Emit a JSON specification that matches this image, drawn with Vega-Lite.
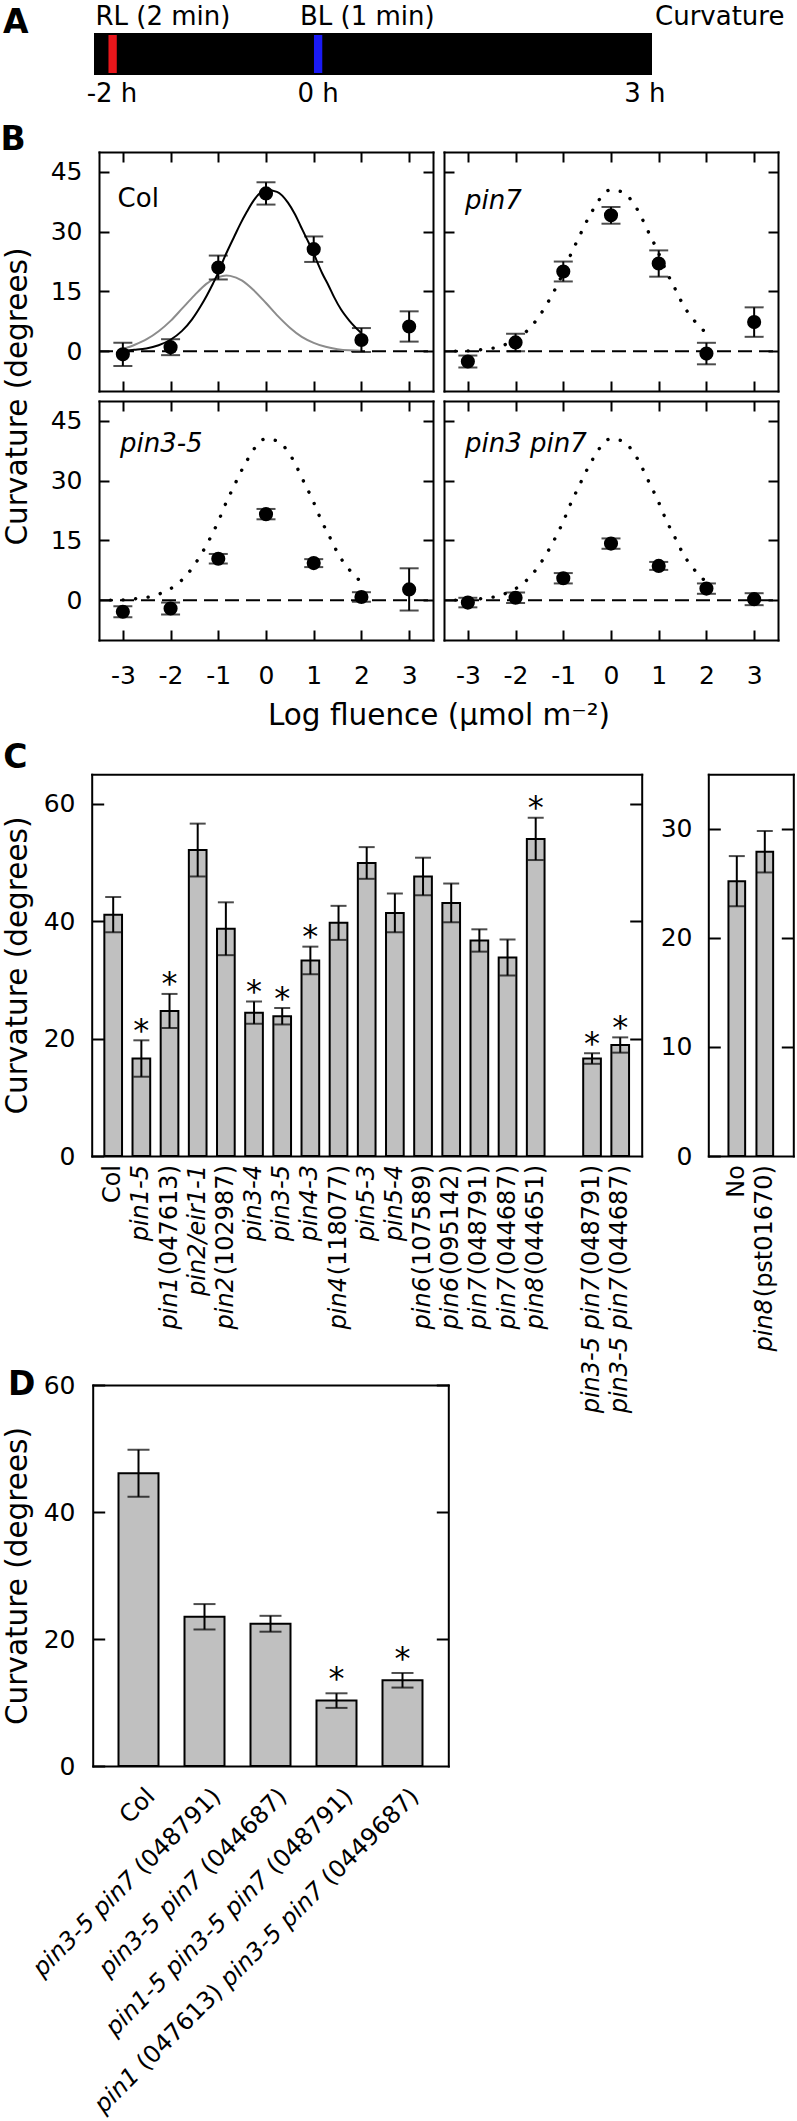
{
"$schema": "https://vega.github.io/schema/vega-lite/v6.json",
"width": 797, "height": 2121,
"autosize": {"type": "none"},
"padding": 0,
"background": "white",
"config": {
  "font": "DejaVu Sans",
  "view": {"stroke": null},
  "axis": {"domain": true, "domainColor": "black", "domainWidth": 2, "domainCap": "square", "grid": false, "ticks": true, "tickWidth": 2, "tickColor": "black", "labelFont": "DejaVu Sans", "labelFontSize": 25, "labelColor": "black", "labelFlush": false, "labelOverlap": false, "titleFont": "DejaVu Sans", "titleFontSize": 29.5, "titleFontWeight": "normal", "titleColor": "black"},
  "text": {"font": "DejaVu Sans", "color": "black"}
},
"datasets": {
  "aseg": [{"seg": "dark", "t0": -2.165, "t1": 3.23}, {"seg": "RL", "t0": -2.044, "t1": -1.944}, {"seg": "BL", "t0": -0.05, "t1": 0.05}],
  "atxt": [{"txt": "RL (2 min)", "t": -2.16, "pos": "above"}, {"txt": "BL (1 min)", "t": -0.176, "pos": "above"}, {"txt": "Curvature", "t": 3.269, "pos": "above"}, {"txt": "-2 h", "t": -2, "pos": "below"}, {"txt": "0 h", "t": 0, "pos": "below"}, {"txt": "3 h", "t": 3.17, "pos": "below"}],
  "bpts": [
    {"panel": "Col", "x": -3, "m": -0.8, "e": 2.9}, {"panel": "Col", "x": -2, "m": 1.0, "e": 2.0}, {"panel": "Col", "x": -1, "m": 21.0, "e": 3.0}, {"panel": "Col", "x": 0, "m": 39.6, "e": 2.8}, {"panel": "Col", "x": 1, "m": 25.6, "e": 3.2}, {"panel": "Col", "x": 2, "m": 2.8, "e": 3.0}, {"panel": "Col", "x": 3, "m": 6.2, "e": 3.8},
    {"panel": "pin7", "x": -3, "m": -2.6, "e": 1.5}, {"panel": "pin7", "x": -2, "m": 2.2, "e": 2.2}, {"panel": "pin7", "x": -1, "m": 20.0, "e": 2.5}, {"panel": "pin7", "x": 0, "m": 34.1, "e": 2.1}, {"panel": "pin7", "x": 1, "m": 22.0, "e": 3.3}, {"panel": "pin7", "x": 2, "m": -0.6, "e": 2.7}, {"panel": "pin7", "x": 3, "m": 7.3, "e": 3.7},
    {"panel": "pin3-5", "x": -3, "m": -2.9, "e": 1.4}, {"panel": "pin3-5", "x": -2, "m": -2.1, "e": 1.5}, {"panel": "pin3-5", "x": -1, "m": 10.4, "e": 1.2}, {"panel": "pin3-5", "x": 0, "m": 21.6, "e": 1.3}, {"panel": "pin3-5", "x": 1, "m": 9.3, "e": 1.0}, {"panel": "pin3-5", "x": 2, "m": 0.8, "e": 1.2}, {"panel": "pin3-5", "x": 3, "m": 2.7, "e": 5.3},
    {"panel": "pin3 pin7", "x": -3, "m": -0.6, "e": 1.2}, {"panel": "pin3 pin7", "x": -2, "m": 0.6, "e": 1.3}, {"panel": "pin3 pin7", "x": -1, "m": 5.5, "e": 1.3}, {"panel": "pin3 pin7", "x": 0, "m": 14.2, "e": 1.3}, {"panel": "pin3 pin7", "x": 1, "m": 8.6, "e": 1.0}, {"panel": "pin3 pin7", "x": 2, "m": 2.9, "e": 1.3}, {"panel": "pin3 pin7", "x": 3, "m": 0.25, "e": 1.5}
  ],
  "fit": [
    {"x": -3.26, "y": 0}, {"x": -3.0, "y": 0.08}, {"x": -2.76, "y": 0.33}, {"x": -2.51, "y": 0.67}, {"x": -2.25, "y": 1.5}, {"x": -2.01, "y": 2.8}, {"x": -1.76, "y": 5.1}, {"x": -1.55, "y": 8.0}, {"x": -1.38, "y": 11.1}, {"x": -1.24, "y": 14.0}, {"x": -1.11, "y": 17.0}, {"x": -0.99, "y": 20.0}, {"x": -0.89, "y": 23.0}, {"x": -0.78, "y": 25.9}, {"x": -0.66, "y": 28.9}, {"x": -0.54, "y": 31.9}, {"x": -0.41, "y": 34.8}, {"x": -0.26, "y": 37.8}, {"x": -0.01, "y": 40.5}, {"x": 0.23, "y": 40.0}, {"x": 0.46, "y": 37.3}, {"x": 0.61, "y": 34.3}, {"x": 0.73, "y": 31.3}, {"x": 0.85, "y": 28.3}, {"x": 0.97, "y": 25.4}, {"x": 1.07, "y": 22.5}, {"x": 1.18, "y": 19.5}, {"x": 1.31, "y": 16.5}, {"x": 1.43, "y": 13.5}, {"x": 1.57, "y": 10.5}, {"x": 1.75, "y": 7.6}, {"x": 1.99, "y": 4.6}
  ],
  "gray": [
    {"x": -3, "y": 0.5}, {"x": -2.75, "y": 1.6}, {"x": -2.5, "y": 3.0}, {"x": -2.25, "y": 5.0}, {"x": -2, "y": 7.6}, {"x": -1.75, "y": 10.8}, {"x": -1.5, "y": 14.0}, {"x": -1.25, "y": 16.9}, {"x": -1, "y": 18.6}, {"x": -0.83, "y": 19.0}, {"x": -0.75, "y": 18.9}, {"x": -0.5, "y": 17.7}, {"x": -0.25, "y": 15.2}, {"x": 0, "y": 12.1}, {"x": 0.25, "y": 8.8}, {"x": 0.5, "y": 5.9}, {"x": 0.75, "y": 3.6}, {"x": 1, "y": 2.1}, {"x": 1.25, "y": 1.1}, {"x": 1.5, "y": 0.5}, {"x": 1.75, "y": 0.2}, {"x": 2, "y": 0.1}
  ],
  "cmain": [
    {"g": "Col", "m": 41.1, "e": 3.0, "ro": "Col"},
    {"g": "pin1-5", "m": 16.6, "e": 3.1, "sig": "*", "it": "pin1-5"},
    {"g": "pin1 (047613)", "m": 24.7, "e": 2.9, "sig": "*", "it": "pin1\u00a0", "ro": "(047613)"},
    {"g": "pin2/eir1-1", "m": 52.1, "e": 4.5, "it": "pin2/eir1-1"},
    {"g": "pin2 (102987)", "m": 38.7, "e": 4.5, "it": "pin2", "ro": "(102987)"},
    {"g": "pin3-4", "m": 24.4, "e": 1.9, "sig": "*", "it": "pin3-4"},
    {"g": "pin3-5", "m": 23.8, "e": 1.4, "sig": "*", "it": "pin3-5"},
    {"g": "pin4-3", "m": 33.3, "e": 2.35, "sig": "*", "it": "pin4-3"},
    {"g": "pin4 (118077)", "m": 39.7, "e": 2.9, "it": "pin4", "ro": "(118077)"},
    {"g": "pin5-3", "m": 49.9, "e": 2.7, "it": "pin5-3"},
    {"g": "pin5-4", "m": 41.4, "e": 3.3, "it": "pin5-4"},
    {"g": "pin6 (107589)", "m": 47.6, "e": 3.2, "it": "pin6", "ro": "(107589)"},
    {"g": "pin6 (095142)", "m": 43.1, "e": 3.3, "it": "pin6", "ro": "(095142)"},
    {"g": "pin7 (048791)", "m": 36.7, "e": 1.9, "it": "pin7", "ro": "(048791)"},
    {"g": "pin7 (044687)", "m": 33.8, "e": 3.05, "it": "pin7", "ro": "(044687)"},
    {"g": "pin8 (044651)", "m": 54.0, "e": 3.6, "sig": "*", "it": "pin8", "ro": "(044651)"},
    {"g": "pin3-5 pin7 (048791)", "m": 16.6, "e": 0.9, "sig": "*", "it": "pin3-5 pin7", "ro": "(048791)"},
    {"g": "pin3-5 pin7 (044687)", "m": 18.9, "e": 1.3, "sig": "*", "it": "pin3-5 pin7", "ro": "(044687)"}
  ],
  "cside": [
    {"g": "No", "m": 25.2, "e": 2.3, "ro": "No"},
    {"g": "pin8 (pst01670)", "m": 27.9, "e": 1.9, "it": "pin8\u00a0", "ro": "(pst01670)"}
  ],
  "dbars": [
    {"g": "Col", "m": 46.1, "e": 3.7, "r1": "Col"},
    {"g": "pin3-5 pin7 (048791)", "m": 23.5, "e": 2.0, "r1": "(048791)", "i1": "pin3-5 pin7"},
    {"g": "pin3-5 pin7 (044687)", "m": 22.4, "e": 1.25, "r1": "(044687)", "i1": "pin3-5 pin7"},
    {"g": "pin1-5 pin3-5 pin7 (048791)", "m": 10.3, "e": 1.15, "sig": "*", "r1": "(048791)", "i1": "pin1-5 pin3-5 pin7"},
    {"g": "pin1 (047613) pin3-5 pin7 (0449687)", "m": 13.5, "e": 1.15, "sig": "*", "r1": "(0449687)", "i1b": "pin3-5 pin7", "r2": "(047613)", "i2": "pin1"}
  ]
},
"resolve": {"scale": {"x": "independent", "y": "independent", "color": "independent"}, "axis": {"x": "independent", "y": "independent"}},
"layer": [
  {
    "layer": [
      {"data": {"name": "aseg"},
       "mark": {"type": "rect", "stroke": "black", "strokeWidth": 2},
       "encoding": {
         "x": {"field": "t0", "type": "quantitative", "scale": {"domain": [-2.165, 3.23], "range": [95, 651], "nice": false, "zero": false}, "axis": null},
         "x2": {"field": "t1"},
         "y": {"datum": 0, "type": "quantitative", "scale": {"domain": [0, 1], "range": [74, 34], "nice": false, "zero": false}, "axis": null},
         "y2": {"datum": 1},
         "color": {"field": "seg", "type": "nominal", "scale": {"domain": ["dark", "RL", "BL"], "range": ["#000000", "#e8161b", "#1a1af5"]}, "legend": null}}},
      {"data": {"name": "atxt"}, "transform": [{"filter": "datum.pos === 'above'"}],
       "mark": {"type": "text", "align": "left", "baseline": "alphabetic", "fontSize": 26, "dy": -9},
       "encoding": {
         "x": {"field": "t", "type": "quantitative", "scale": {"domain": [-2.165, 3.23], "range": [95, 651], "nice": false, "zero": false}, "axis": null},
         "y": {"datum": 1, "type": "quantitative", "scale": {"domain": [0, 1], "range": [74, 34], "nice": false, "zero": false}, "axis": null},
         "text": {"field": "txt"}}},
      {"data": {"name": "atxt"}, "transform": [{"filter": "datum.pos === 'below'"}],
       "mark": {"type": "text", "align": "center", "baseline": "alphabetic", "fontSize": 26, "dy": 27.7},
       "encoding": {
         "x": {"field": "t", "type": "quantitative", "scale": {"domain": [-2.165, 3.23], "range": [95, 651], "nice": false, "zero": false}, "axis": null},
         "y": {"datum": 0, "type": "quantitative", "scale": {"domain": [0, 1], "range": [74, 34], "nice": false, "zero": false}, "axis": null},
         "text": {"field": "txt"}}},
      {"data": {"values": [{}]},
       "mark": {"type": "text", "text": "A", "align": "left", "baseline": "alphabetic", "fontSize": 33, "fontWeight": "bold", "dx": -92, "dy": -1},
       "encoding": {
         "x": {"datum": -2.165, "type": "quantitative", "scale": {"domain": [-2.165, 3.23], "range": [95, 651], "nice": false, "zero": false}, "axis": null},
         "y": {"datum": 1, "type": "quantitative", "scale": {"domain": [0, 1], "range": [74, 34], "nice": false, "zero": false}, "axis": null}}}
    ]
  },
  {
    "resolve": {"axis": {"x": "independent", "y": "independent"}},
    "layer": [
      {"data": {"values": [{}]},
       "mark": {"type": "rule", "strokeDash": [14, 7], "strokeWidth": 2, "color": "black"},
       "encoding": {
         "x": {"datum": -3.5, "type": "quantitative", "scale": {"domain": [-3.5, 3.5], "range": [99, 433], "nice": false, "zero": false}, "axis": null},
         "x2": {"datum": 3.5},
         "y": {"datum": 0, "type": "quantitative", "scale": {"domain": [-10, 50], "range": [391, 152], "nice": false, "zero": false}, "axis": null}}},
      {"data": {"name": "gray"},
       "mark": {"type": "line", "color": "#8c8c8c", "strokeWidth": 2, "interpolate": "monotone"},
       "encoding": {
         "x": {"field": "x", "type": "quantitative", "scale": {"domain": [-3.5, 3.5], "range": [99, 433], "nice": false, "zero": false}, "axis": null},
         "y": {"field": "y", "type": "quantitative", "scale": {"domain": [-10, 50], "range": [391, 152], "nice": false, "zero": false}, "axis": null}}},
      {"data": {"name": "fit"}, "transform": [{"filter": "datum.x >= -3.05"}],
       "mark": {"type": "line", "color": "black", "strokeWidth": 2, "interpolate": "monotone"},
       "encoding": {
         "x": {"field": "x", "type": "quantitative", "scale": {"domain": [-3.5, 3.5], "range": [99, 433], "nice": false, "zero": false}, "axis": {"orient": "top", "offset": -152, "values": [-3, -2, -1, 0, 1, 2, 3], "tickSize": -10, "labels": false, "title": null}},
         "y": {"field": "y", "type": "quantitative", "scale": {"domain": [-10, 50], "range": [391, 152], "nice": false, "zero": false}, "axis": {"orient": "right", "offset": -364, "values": [0, 15, 30, 45], "tickSize": -10, "labels": false, "title": null}}}},
      {"data": {"name": "bpts"}, "transform": [{"filter": "datum.panel === 'Col'"}],
       "mark": {"type": "errorbar", "ticks": true, "size": 19, "thickness": 2, "color": "black"},
       "encoding": {
         "x": {"field": "x", "type": "quantitative", "scale": {"domain": [-3.5, 3.5], "range": [99, 433], "nice": false, "zero": false}, "axis": null},
         "y": {"field": "m", "type": "quantitative", "scale": {"domain": [-10, 50], "range": [391, 152], "nice": false, "zero": false}, "axis": null},
         "yError": {"field": "e"}}},
      {"data": {"name": "bpts"}, "transform": [{"filter": "datum.panel === 'Col'"}],
       "mark": {"type": "circle", "size": 200, "color": "black", "opacity": 1},
       "encoding": {
         "x": {"field": "x", "type": "quantitative", "scale": {"domain": [-3.5, 3.5], "range": [99, 433], "nice": false, "zero": false}, "axis": {"orient": "bottom", "offset": -1730, "values": [-3, -2, -1, 0, 1, 2, 3], "tickSize": -10, "labels": false, "title": null}},
         "y": {"field": "m", "type": "quantitative", "scale": {"domain": [-10, 50], "range": [391, 152], "nice": false, "zero": false}, "axis": {"orient": "left", "offset": -99, "values": [0, 15, 30, 45], "tickSize": -10, "labelPadding": 27, "title": "Curvature (degrees)", "titleX": -73, "titleY": 396, "titleAngle": 270, "titleAlign": "center", "titleBaseline": "alphabetic"}}}},
      {"data": {"values": [{}]},
       "mark": {"type": "text", "text": "Col", "align": "left", "baseline": "alphabetic", "fontSize": 26},
       "encoding": {
         "x": {"datum": -3.11, "type": "quantitative", "scale": {"domain": [-3.5, 3.5], "range": [99, 433], "nice": false, "zero": false}, "axis": null},
         "y": {"datum": 36.2, "type": "quantitative", "scale": {"domain": [-10, 50], "range": [391, 152], "nice": false, "zero": false}, "axis": null}}},
      {"data": {"values": [{}]},
       "mark": {"type": "text", "text": "B", "align": "left", "baseline": "alphabetic", "fontSize": 33, "fontWeight": "bold", "dx": -98.6, "dy": -2},
       "encoding": {
         "x": {"datum": -3.5, "type": "quantitative", "scale": {"domain": [-3.5, 3.5], "range": [99, 433], "nice": false, "zero": false}, "axis": null},
         "y": {"datum": 50, "type": "quantitative", "scale": {"domain": [-10, 50], "range": [391, 152], "nice": false, "zero": false}, "axis": null}}}
    ]
  },
  {
    "resolve": {"axis": {"x": "independent", "y": "independent"}},
    "layer": [
      {"data": {"values": [{}]},
       "mark": {"type": "rule", "strokeDash": [14, 7], "strokeWidth": 2, "color": "black"},
       "encoding": {
         "x": {"datum": -3.5, "type": "quantitative", "scale": {"domain": [-3.5, 3.5], "range": [444, 778], "nice": false, "zero": false}, "axis": null},
         "x2": {"datum": 3.5},
         "y": {"datum": 0, "type": "quantitative", "scale": {"domain": [-10, 50], "range": [391, 152], "nice": false, "zero": false}, "axis": null}}},
      {"data": {"name": "fit"},
       "mark": {"type": "line", "color": "black", "strokeWidth": 3.4, "strokeDash": [0.1, 12.5], "strokeCap": "round", "interpolate": "monotone"},
       "encoding": {
         "x": {"field": "x", "type": "quantitative", "scale": {"domain": [-3.5, 3.5], "range": [444, 778], "nice": false, "zero": false}, "axis": {"orient": "top", "offset": -152, "values": [-3, -2, -1, 0, 1, 2, 3], "tickSize": -10, "labels": false, "title": null}},
         "y": {"field": "y", "type": "quantitative", "scale": {"domain": [-10, 50], "range": [391, 152], "nice": false, "zero": false}, "axis": {"orient": "right", "offset": -19, "values": [0, 15, 30, 45], "tickSize": -10, "labels": false, "title": null}}}},
      {"data": {"name": "bpts"}, "transform": [{"filter": "datum.panel === 'pin7'"}],
       "mark": {"type": "errorbar", "ticks": true, "size": 19, "thickness": 2, "color": "black"},
       "encoding": {
         "x": {"field": "x", "type": "quantitative", "scale": {"domain": [-3.5, 3.5], "range": [444, 778], "nice": false, "zero": false}, "axis": null},
         "y": {"field": "m", "type": "quantitative", "scale": {"domain": [-10, 50], "range": [391, 152], "nice": false, "zero": false}, "axis": null},
         "yError": {"field": "e"}}},
      {"data": {"name": "bpts"}, "transform": [{"filter": "datum.panel === 'pin7'"}],
       "mark": {"type": "circle", "size": 200, "color": "black", "opacity": 1},
       "encoding": {
         "x": {"field": "x", "type": "quantitative", "scale": {"domain": [-3.5, 3.5], "range": [444, 778], "nice": false, "zero": false}, "axis": {"orient": "bottom", "offset": -1730, "values": [-3, -2, -1, 0, 1, 2, 3], "tickSize": -10, "labels": false, "title": null}},
         "y": {"field": "m", "type": "quantitative", "scale": {"domain": [-10, 50], "range": [391, 152], "nice": false, "zero": false}, "axis": {"orient": "left", "offset": -444, "values": [0, 15, 30, 45], "tickSize": -10, "labels": false, "title": null}}}},
      {"data": {"values": [{}]},
       "mark": {"type": "text", "text": "pin7", "align": "left", "baseline": "alphabetic", "fontSize": 26, "fontStyle": "italic"},
       "encoding": {
         "x": {"datum": -3.06, "type": "quantitative", "scale": {"domain": [-3.5, 3.5], "range": [444, 778], "nice": false, "zero": false}, "axis": null},
         "y": {"datum": 35.7, "type": "quantitative", "scale": {"domain": [-10, 50], "range": [391, 152], "nice": false, "zero": false}, "axis": null}}}
    ]
  },
  {
    "resolve": {"axis": {"x": "independent", "y": "independent"}},
    "layer": [
      {"data": {"values": [{}]},
       "mark": {"type": "rule", "strokeDash": [14, 7], "strokeWidth": 2, "color": "black"},
       "encoding": {
         "x": {"datum": -3.5, "type": "quantitative", "scale": {"domain": [-3.5, 3.5], "range": [99, 433], "nice": false, "zero": false}, "axis": null},
         "x2": {"datum": 3.5},
         "y": {"datum": 0, "type": "quantitative", "scale": {"domain": [-10, 50], "range": [640, 401], "nice": false, "zero": false}, "axis": null}}},
      {"data": {"name": "fit"},
       "mark": {"type": "line", "color": "black", "strokeWidth": 3.4, "strokeDash": [0.1, 12.5], "strokeCap": "round", "interpolate": "monotone"},
       "encoding": {
         "x": {"field": "x", "type": "quantitative", "scale": {"domain": [-3.5, 3.5], "range": [99, 433], "nice": false, "zero": false}, "axis": {"orient": "top", "offset": -401, "values": [-3, -2, -1, 0, 1, 2, 3], "tickSize": -10, "labels": false, "title": null}},
         "y": {"field": "y", "type": "quantitative", "scale": {"domain": [-10, 50], "range": [640, 401], "nice": false, "zero": false}, "axis": {"orient": "right", "offset": -364, "values": [0, 15, 30, 45], "tickSize": -10, "labels": false, "title": null}}}},
      {"data": {"name": "bpts"}, "transform": [{"filter": "datum.panel === 'pin3-5'"}],
       "mark": {"type": "errorbar", "ticks": true, "size": 19, "thickness": 2, "color": "black"},
       "encoding": {
         "x": {"field": "x", "type": "quantitative", "scale": {"domain": [-3.5, 3.5], "range": [99, 433], "nice": false, "zero": false}, "axis": null},
         "y": {"field": "m", "type": "quantitative", "scale": {"domain": [-10, 50], "range": [640, 401], "nice": false, "zero": false}, "axis": null},
         "yError": {"field": "e"}}},
      {"data": {"name": "bpts"}, "transform": [{"filter": "datum.panel === 'pin3-5'"}],
       "mark": {"type": "circle", "size": 200, "color": "black", "opacity": 1},
       "encoding": {
         "x": {"field": "x", "type": "quantitative", "scale": {"domain": [-3.5, 3.5], "range": [99, 433], "nice": false, "zero": false}, "axis": {"orient": "bottom", "offset": -1481, "values": [-3, -2, -1, 0, 1, 2, 3], "tickSize": -10, "labelPadding": 33.5, "labelExpr": "'' + datum.value", "title": "Log fluence (\u03bcmol m\u207b\u00b2)", "titleX": 438.5, "titleY": 84, "titleAngle": 0, "titleAlign": "center", "titleBaseline": "alphabetic"}},
         "y": {"field": "m", "type": "quantitative", "scale": {"domain": [-10, 50], "range": [640, 401], "nice": false, "zero": false}, "axis": {"orient": "left", "offset": -99, "values": [0, 15, 30, 45], "tickSize": -10, "labelPadding": 27, "title": null}}}},
      {"data": {"values": [{}]},
       "mark": {"type": "text", "text": "pin3-5", "align": "left", "baseline": "alphabetic", "fontSize": 26, "fontStyle": "italic"},
       "encoding": {
         "x": {"datum": -3.06, "type": "quantitative", "scale": {"domain": [-3.5, 3.5], "range": [99, 433], "nice": false, "zero": false}, "axis": null},
         "y": {"datum": 37.3, "type": "quantitative", "scale": {"domain": [-10, 50], "range": [640, 401], "nice": false, "zero": false}, "axis": null}}}
    ]
  },
  {
    "resolve": {"axis": {"x": "independent", "y": "independent"}},
    "layer": [
      {"data": {"values": [{}]},
       "mark": {"type": "rule", "strokeDash": [14, 7], "strokeWidth": 2, "color": "black"},
       "encoding": {
         "x": {"datum": -3.5, "type": "quantitative", "scale": {"domain": [-3.5, 3.5], "range": [444, 778], "nice": false, "zero": false}, "axis": null},
         "x2": {"datum": 3.5},
         "y": {"datum": 0, "type": "quantitative", "scale": {"domain": [-10, 50], "range": [640, 401], "nice": false, "zero": false}, "axis": null}}},
      {"data": {"name": "fit"},
       "mark": {"type": "line", "color": "black", "strokeWidth": 3.4, "strokeDash": [0.1, 12.5], "strokeCap": "round", "interpolate": "monotone"},
       "encoding": {
         "x": {"field": "x", "type": "quantitative", "scale": {"domain": [-3.5, 3.5], "range": [444, 778], "nice": false, "zero": false}, "axis": {"orient": "top", "offset": -401, "values": [-3, -2, -1, 0, 1, 2, 3], "tickSize": -10, "labels": false, "title": null}},
         "y": {"field": "y", "type": "quantitative", "scale": {"domain": [-10, 50], "range": [640, 401], "nice": false, "zero": false}, "axis": {"orient": "right", "offset": -19, "values": [0, 15, 30, 45], "tickSize": -10, "labels": false, "title": null}}}},
      {"data": {"name": "bpts"}, "transform": [{"filter": "datum.panel === 'pin3 pin7'"}],
       "mark": {"type": "errorbar", "ticks": true, "size": 19, "thickness": 2, "color": "black"},
       "encoding": {
         "x": {"field": "x", "type": "quantitative", "scale": {"domain": [-3.5, 3.5], "range": [444, 778], "nice": false, "zero": false}, "axis": null},
         "y": {"field": "m", "type": "quantitative", "scale": {"domain": [-10, 50], "range": [640, 401], "nice": false, "zero": false}, "axis": null},
         "yError": {"field": "e"}}},
      {"data": {"name": "bpts"}, "transform": [{"filter": "datum.panel === 'pin3 pin7'"}],
       "mark": {"type": "circle", "size": 200, "color": "black", "opacity": 1},
       "encoding": {
         "x": {"field": "x", "type": "quantitative", "scale": {"domain": [-3.5, 3.5], "range": [444, 778], "nice": false, "zero": false}, "axis": {"orient": "bottom", "offset": -1481, "values": [-3, -2, -1, 0, 1, 2, 3], "tickSize": -10, "labelPadding": 33.5, "labelExpr": "'' + datum.value", "title": null}},
         "y": {"field": "m", "type": "quantitative", "scale": {"domain": [-10, 50], "range": [640, 401], "nice": false, "zero": false}, "axis": {"orient": "left", "offset": -444, "values": [0, 15, 30, 45], "tickSize": -10, "labels": false, "title": null}}}},
      {"data": {"values": [{}]},
       "mark": {"type": "text", "text": "pin3 pin7", "align": "left", "baseline": "alphabetic", "fontSize": 26, "fontStyle": "italic"},
       "encoding": {
         "x": {"datum": -3.06, "type": "quantitative", "scale": {"domain": [-3.5, 3.5], "range": [444, 778], "nice": false, "zero": false}, "axis": null},
         "y": {"datum": 37.1, "type": "quantitative", "scale": {"domain": [-10, 50], "range": [640, 401], "nice": false, "zero": false}, "axis": null}}}
    ]
  },
  {
    "resolve": {"axis": {"x": "independent", "y": "independent"}},
    "layer": [
      {"data": {"name": "cmain"},
       "mark": {"type": "bar", "fill": "#c0c0c0", "stroke": "black", "strokeWidth": 2},
       "encoding": {
         "x": {"field": "g", "type": "nominal", "scale": {"type": "band", "domain": ["Col", "pin1-5", "pin1 (047613)", "pin2/eir1-1", "pin2 (102987)", "pin3-4", "pin3-5", "pin4-3", "pin4 (118077)", "pin5-3", "pin5-4", "pin6 (107589)", "pin6 (095142)", "pin7 (048791)", "pin7 (044687)", "pin8 (044651)", " ", "pin3-5 pin7 (048791)", "pin3-5 pin7 (044687)"], "range": [91.7, 641.7], "paddingInner": 0.372, "paddingOuter": 0.449}, "axis": {"orient": "bottom", "offset": -965, "ticks": false, "labels": false, "title": null}},
         "y": {"field": "m", "type": "quantitative", "scale": {"domain": [0, 65], "range": [1156, 774.3], "nice": false}, "axis": {"orient": "left", "offset": -91.7, "values": [0, 20, 40, 60], "tickSize": -12, "labelPadding": 28.7, "title": "Curvature (degrees)", "titleX": -65.7, "titleY": 965, "titleAngle": 270, "titleAlign": "center", "titleBaseline": "alphabetic"}}}},
      {"data": {"name": "cmain"},
       "mark": {"type": "errorbar", "ticks": true, "size": 16, "thickness": 2, "color": "black"},
       "encoding": {
         "x": {"field": "g", "type": "nominal", "scale": {"type": "band", "domain": ["Col", "pin1-5", "pin1 (047613)", "pin2/eir1-1", "pin2 (102987)", "pin3-4", "pin3-5", "pin4-3", "pin4 (118077)", "pin5-3", "pin5-4", "pin6 (107589)", "pin6 (095142)", "pin7 (048791)", "pin7 (044687)", "pin8 (044651)", " ", "pin3-5 pin7 (048791)", "pin3-5 pin7 (044687)"], "range": [91.7, 641.7], "paddingInner": 0.372, "paddingOuter": 0.449}, "axis": null},
         "y": {"field": "m", "type": "quantitative", "scale": {"domain": [0, 65], "range": [1156, 774.3], "nice": false}, "axis": null},
         "yError": {"field": "e"}}},
      {"data": {"name": "cmain"}, "transform": [{"filter": "datum.sig"}, {"calculate": "datum.m + datum.e", "as": "hi"}],
       "mark": {"type": "text", "text": "*", "fontSize": 32, "baseline": "alphabetic", "align": "center", "dy": 0.5},
       "encoding": {
         "x": {"field": "g", "type": "nominal", "scale": {"type": "band", "domain": ["Col", "pin1-5", "pin1 (047613)", "pin2/eir1-1", "pin2 (102987)", "pin3-4", "pin3-5", "pin4-3", "pin4 (118077)", "pin5-3", "pin5-4", "pin6 (107589)", "pin6 (095142)", "pin7 (048791)", "pin7 (044687)", "pin8 (044651)", " ", "pin3-5 pin7 (048791)", "pin3-5 pin7 (044687)"], "range": [91.7, 641.7], "paddingInner": 0.372, "paddingOuter": 0.449}, "axis": {"orient": "top", "offset": -774.3, "ticks": false, "labels": false, "title": null}},
         "y": {"field": "hi", "type": "quantitative", "scale": {"domain": [0, 65], "range": [1156, 774.3], "nice": false}, "axis": {"orient": "right", "offset": -155.3, "values": [20, 40, 60], "tickSize": -12, "labels": false, "title": null}}}},
      {"data": {"name": "cmain"}, "transform": [{"filter": "datum.ro"}],
       "mark": {"type": "text", "angle": 270, "align": "right", "baseline": "middle", "fontSize": 24, "dx": -9},
       "encoding": {
         "x": {"field": "g", "type": "nominal", "scale": {"type": "band", "domain": ["Col", "pin1-5", "pin1 (047613)", "pin2/eir1-1", "pin2 (102987)", "pin3-4", "pin3-5", "pin4-3", "pin4 (118077)", "pin5-3", "pin5-4", "pin6 (107589)", "pin6 (095142)", "pin7 (048791)", "pin7 (044687)", "pin8 (044651)", " ", "pin3-5 pin7 (048791)", "pin3-5 pin7 (044687)"], "range": [91.7, 641.7], "paddingInner": 0.372, "paddingOuter": 0.449}, "axis": null},
         "y": {"datum": 0, "type": "quantitative", "scale": {"domain": [0, 65], "range": [1156, 774.3], "nice": false}, "axis": null},
         "text": {"field": "ro"}}},
      {"data": {"name": "cmain"}, "transform": [{"filter": "datum.it && !datum.ro"}],
       "mark": {"type": "text", "angle": 270, "align": "right", "baseline": "middle", "fontSize": 24, "fontStyle": "italic", "dx": -9},
       "encoding": {
         "x": {"field": "g", "type": "nominal", "scale": {"type": "band", "domain": ["Col", "pin1-5", "pin1 (047613)", "pin2/eir1-1", "pin2 (102987)", "pin3-4", "pin3-5", "pin4-3", "pin4 (118077)", "pin5-3", "pin5-4", "pin6 (107589)", "pin6 (095142)", "pin7 (048791)", "pin7 (044687)", "pin8 (044651)", " ", "pin3-5 pin7 (048791)", "pin3-5 pin7 (044687)"], "range": [91.7, 641.7], "paddingInner": 0.372, "paddingOuter": 0.449}, "axis": null},
         "y": {"datum": 0, "type": "quantitative", "scale": {"domain": [0, 65], "range": [1156, 774.3], "nice": false}, "axis": null},
         "text": {"field": "it"}}},
      {"data": {"name": "cmain"}, "transform": [{"filter": "datum.it && datum.ro"}],
       "mark": {"type": "text", "angle": 270, "align": "right", "baseline": "middle", "fontSize": 24, "fontStyle": "italic", "dx": -121},
       "encoding": {
         "x": {"field": "g", "type": "nominal", "scale": {"type": "band", "domain": ["Col", "pin1-5", "pin1 (047613)", "pin2/eir1-1", "pin2 (102987)", "pin3-4", "pin3-5", "pin4-3", "pin4 (118077)", "pin5-3", "pin5-4", "pin6 (107589)", "pin6 (095142)", "pin7 (048791)", "pin7 (044687)", "pin8 (044651)", " ", "pin3-5 pin7 (048791)", "pin3-5 pin7 (044687)"], "range": [91.7, 641.7], "paddingInner": 0.372, "paddingOuter": 0.449}, "axis": null},
         "y": {"datum": 0, "type": "quantitative", "scale": {"domain": [0, 65], "range": [1156, 774.3], "nice": false}, "axis": null},
         "text": {"field": "it"}}},
      {"data": {"values": [{}]},
       "mark": {"type": "text", "text": "C", "align": "left", "baseline": "alphabetic", "fontSize": 33, "fontWeight": "bold", "dx": -109.9, "dy": -6},
       "encoding": {
         "x": {"datum": "Col", "type": "nominal", "scale": {"type": "band", "domain": ["Col", "pin1-5", "pin1 (047613)", "pin2/eir1-1", "pin2 (102987)", "pin3-4", "pin3-5", "pin4-3", "pin4 (118077)", "pin5-3", "pin5-4", "pin6 (107589)", "pin6 (095142)", "pin7 (048791)", "pin7 (044687)", "pin8 (044651)", " ", "pin3-5 pin7 (048791)", "pin3-5 pin7 (044687)"], "range": [91.7, 641.7], "paddingInner": 0.372, "paddingOuter": 0.449}, "axis": null},
         "y": {"datum": 65, "type": "quantitative", "scale": {"domain": [0, 65], "range": [1156, 774.3], "nice": false}, "axis": null}}}
    ]
  },
  {
    "resolve": {"axis": {"x": "independent", "y": "independent"}},
    "layer": [
      {"data": {"name": "cside"},
       "mark": {"type": "bar", "fill": "#c0c0c0", "stroke": "black", "strokeWidth": 2},
       "encoding": {
         "x": {"field": "g", "type": "nominal", "scale": {"type": "band", "domain": ["No", "pin8 (pst01670)"], "range": [708.3, 793.3], "paddingInner": 0.404, "paddingOuter": 0.72}, "axis": {"orient": "bottom", "offset": -965, "ticks": false, "labels": false, "title": null}},
         "y": {"field": "m", "type": "quantitative", "scale": {"domain": [0, 35], "range": [1156, 774.3], "nice": false}, "axis": {"orient": "left", "offset": -708.3, "values": [0, 10, 20, 30], "tickSize": -12, "labelPadding": 28.3, "title": null}}}},
      {"data": {"name": "cside"},
       "mark": {"type": "errorbar", "ticks": true, "size": 16, "thickness": 2, "color": "black"},
       "encoding": {
         "x": {"field": "g", "type": "nominal", "scale": {"type": "band", "domain": ["No", "pin8 (pst01670)"], "range": [708.3, 793.3], "paddingInner": 0.404, "paddingOuter": 0.72}, "axis": null},
         "y": {"field": "m", "type": "quantitative", "scale": {"domain": [0, 35], "range": [1156, 774.3], "nice": false}, "axis": null},
         "yError": {"field": "e"}}},
      {"data": {"name": "cside"},
       "mark": {"type": "point", "opacity": 0},
       "encoding": {
         "x": {"field": "g", "type": "nominal", "scale": {"type": "band", "domain": ["No", "pin8 (pst01670)"], "range": [708.3, 793.3], "paddingInner": 0.404, "paddingOuter": 0.72}, "axis": {"orient": "top", "offset": -774.3, "ticks": false, "labels": false, "title": null}},
         "y": {"field": "m", "type": "quantitative", "scale": {"domain": [0, 35], "range": [1156, 774.3], "nice": false}, "axis": {"orient": "right", "offset": -3.7, "values": [10, 20, 30], "tickSize": -12, "labels": false, "title": null}}}},
      {"data": {"name": "cside"}, "transform": [{"filter": "datum.ro"}],
       "mark": {"type": "text", "angle": 270, "align": "right", "baseline": "middle", "fontSize": 24, "dx": -9},
       "encoding": {
         "x": {"field": "g", "type": "nominal", "scale": {"type": "band", "domain": ["No", "pin8 (pst01670)"], "range": [708.3, 793.3], "paddingInner": 0.404, "paddingOuter": 0.72}, "axis": null},
         "y": {"datum": 0, "type": "quantitative", "scale": {"domain": [0, 35], "range": [1156, 774.3], "nice": false}, "axis": null},
         "text": {"field": "ro"}}},
      {"data": {"name": "cside"}, "transform": [{"filter": "datum.it && datum.ro"}],
       "mark": {"type": "text", "angle": 270, "align": "right", "baseline": "middle", "fontSize": 24, "fontStyle": "italic", "dx": -143},
       "encoding": {
         "x": {"field": "g", "type": "nominal", "scale": {"type": "band", "domain": ["No", "pin8 (pst01670)"], "range": [708.3, 793.3], "paddingInner": 0.404, "paddingOuter": 0.72}, "axis": null},
         "y": {"datum": 0, "type": "quantitative", "scale": {"domain": [0, 35], "range": [1156, 774.3], "nice": false}, "axis": null},
         "text": {"field": "it"}}}
    ]
  },
  {
    "resolve": {"axis": {"x": "independent", "y": "independent"}},
    "layer": [
      {"data": {"name": "dbars"},
       "mark": {"type": "bar", "fill": "#c0c0c0", "stroke": "black", "strokeWidth": 2},
       "encoding": {
         "x": {"field": "g", "type": "nominal", "scale": {"type": "band", "domain": ["Col", "pin3-5 pin7 (048791)", "pin3-5 pin7 (044687)", "pin1-5 pin3-5 pin7 (048791)", "pin1 (047613) pin3-5 pin7 (0449687)"], "range": [92.7, 448.3], "paddingInner": 0.394, "paddingOuter": 0.391}, "axis": {"orient": "bottom", "offset": -355, "ticks": false, "labels": false, "title": null}},
         "y": {"field": "m", "type": "quantitative", "scale": {"domain": [0, 60], "range": [1766, 1385], "nice": false}, "axis": {"orient": "left", "offset": -92.7, "values": [0, 20, 40, 60], "tickSize": -12, "labelPadding": 29.7, "title": "Curvature (degrees)", "titleX": -66.7, "titleY": 1575.5, "titleAngle": 270, "titleAlign": "center", "titleBaseline": "alphabetic"}}}},
      {"data": {"name": "dbars"},
       "mark": {"type": "errorbar", "ticks": true, "size": 22, "thickness": 2, "color": "black"},
       "encoding": {
         "x": {"field": "g", "type": "nominal", "scale": {"type": "band", "domain": ["Col", "pin3-5 pin7 (048791)", "pin3-5 pin7 (044687)", "pin1-5 pin3-5 pin7 (048791)", "pin1 (047613) pin3-5 pin7 (0449687)"], "range": [92.7, 448.3], "paddingInner": 0.394, "paddingOuter": 0.391}, "axis": null},
         "y": {"field": "m", "type": "quantitative", "scale": {"domain": [0, 60], "range": [1766, 1385], "nice": false}, "axis": null},
         "yError": {"field": "e"}}},
      {"data": {"name": "dbars"}, "transform": [{"filter": "datum.sig"}, {"calculate": "datum.m + datum.e", "as": "hi"}],
       "mark": {"type": "text", "text": "*", "fontSize": 32, "baseline": "alphabetic", "align": "center", "dy": -4},
       "encoding": {
         "x": {"field": "g", "type": "nominal", "scale": {"type": "band", "domain": ["Col", "pin3-5 pin7 (048791)", "pin3-5 pin7 (044687)", "pin1-5 pin3-5 pin7 (048791)", "pin1 (047613) pin3-5 pin7 (0449687)"], "range": [92.7, 448.3], "paddingInner": 0.394, "paddingOuter": 0.391}, "axis": {"orient": "top", "offset": -1385, "ticks": false, "labels": false, "title": null}},
         "y": {"field": "hi", "type": "quantitative", "scale": {"domain": [0, 60], "range": [1766, 1385], "nice": false}, "axis": {"orient": "right", "offset": -348.7, "values": [20, 40, 60], "tickSize": -12, "labels": false, "title": null}}}},
      {"data": {"name": "dbars"}, "transform": [{"filter": "datum.r1"}],
       "mark": {"type": "text", "angle": 315, "align": "right", "baseline": "top", "fontSize": 24, "dx": -10, "dy": 16},
       "encoding": {
         "x": {"field": "g", "type": "nominal", "scale": {"type": "band", "domain": ["Col", "pin3-5 pin7 (048791)", "pin3-5 pin7 (044687)", "pin1-5 pin3-5 pin7 (048791)", "pin1 (047613) pin3-5 pin7 (0449687)"], "range": [92.7, 448.3], "paddingInner": 0.394, "paddingOuter": 0.391}, "axis": null},
         "y": {"datum": 0, "type": "quantitative", "scale": {"domain": [0, 60], "range": [1766, 1385], "nice": false}, "axis": null},
         "text": {"field": "r1"}}},
      {"data": {"name": "dbars"}, "transform": [{"filter": "datum.i1"}],
       "mark": {"type": "text", "angle": 315, "align": "right", "baseline": "top", "fontSize": 24, "fontStyle": "italic", "dx": -128, "dy": 16},
       "encoding": {
         "x": {"field": "g", "type": "nominal", "scale": {"type": "band", "domain": ["Col", "pin3-5 pin7 (048791)", "pin3-5 pin7 (044687)", "pin1-5 pin3-5 pin7 (048791)", "pin1 (047613) pin3-5 pin7 (0449687)"], "range": [92.7, 448.3], "paddingInner": 0.394, "paddingOuter": 0.391}, "axis": null},
         "y": {"datum": 0, "type": "quantitative", "scale": {"domain": [0, 60], "range": [1766, 1385], "nice": false}, "axis": null},
         "text": {"field": "i1"}}},
      {"data": {"name": "dbars"}, "transform": [{"filter": "datum.i1b"}],
       "mark": {"type": "text", "angle": 315, "align": "right", "baseline": "top", "fontSize": 24, "fontStyle": "italic", "dx": -143.2, "dy": 16},
       "encoding": {
         "x": {"field": "g", "type": "nominal", "scale": {"type": "band", "domain": ["Col", "pin3-5 pin7 (048791)", "pin3-5 pin7 (044687)", "pin1-5 pin3-5 pin7 (048791)", "pin1 (047613) pin3-5 pin7 (0449687)"], "range": [92.7, 448.3], "paddingInner": 0.394, "paddingOuter": 0.391}, "axis": null},
         "y": {"datum": 0, "type": "quantitative", "scale": {"domain": [0, 60], "range": [1766, 1385], "nice": false}, "axis": null},
         "text": {"field": "i1b"}}},
      {"data": {"name": "dbars"}, "transform": [{"filter": "datum.r2"}],
       "mark": {"type": "text", "angle": 315, "align": "right", "baseline": "top", "fontSize": 24, "dx": -287.1, "dy": 16},
       "encoding": {
         "x": {"field": "g", "type": "nominal", "scale": {"type": "band", "domain": ["Col", "pin3-5 pin7 (048791)", "pin3-5 pin7 (044687)", "pin1-5 pin3-5 pin7 (048791)", "pin1 (047613) pin3-5 pin7 (0449687)"], "range": [92.7, 448.3], "paddingInner": 0.394, "paddingOuter": 0.391}, "axis": null},
         "y": {"datum": 0, "type": "quantitative", "scale": {"domain": [0, 60], "range": [1766, 1385], "nice": false}, "axis": null},
         "text": {"field": "r2"}}},
      {"data": {"name": "dbars"}, "transform": [{"filter": "datum.i2"}],
       "mark": {"type": "text", "angle": 315, "align": "right", "baseline": "top", "fontSize": 24, "fontStyle": "italic", "dx": -405, "dy": 16},
       "encoding": {
         "x": {"field": "g", "type": "nominal", "scale": {"type": "band", "domain": ["Col", "pin3-5 pin7 (048791)", "pin3-5 pin7 (044687)", "pin1-5 pin3-5 pin7 (048791)", "pin1 (047613) pin3-5 pin7 (0449687)"], "range": [92.7, 448.3], "paddingInner": 0.394, "paddingOuter": 0.391}, "axis": null},
         "y": {"datum": 0, "type": "quantitative", "scale": {"domain": [0, 60], "range": [1766, 1385], "nice": false}, "axis": null},
         "text": {"field": "i2"}}},
      {"data": {"values": [{}]},
       "mark": {"type": "text", "text": "D", "align": "left", "baseline": "alphabetic", "fontSize": 33, "fontWeight": "bold", "dx": -130.6, "dy": 10},
       "encoding": {
         "x": {"datum": "Col", "type": "nominal", "scale": {"type": "band", "domain": ["Col", "pin3-5 pin7 (048791)", "pin3-5 pin7 (044687)", "pin1-5 pin3-5 pin7 (048791)", "pin1 (047613) pin3-5 pin7 (0449687)"], "range": [92.7, 448.3], "paddingInner": 0.394, "paddingOuter": 0.391}, "axis": null},
         "y": {"datum": 60, "type": "quantitative", "scale": {"domain": [0, 60], "range": [1766, 1385], "nice": false}, "axis": null}}}
    ]
  }
]
}
